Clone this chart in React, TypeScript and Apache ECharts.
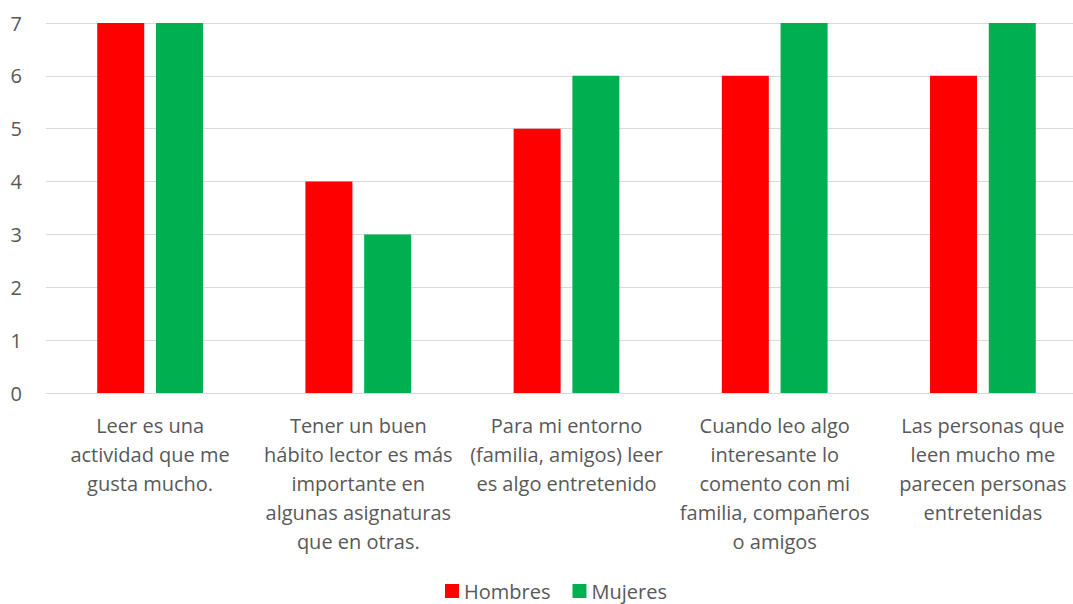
import React, { useEffect, useRef } from "react";
import * as echarts from "echarts";

const categories = [
  "Leer es una\nactividad que me\ngusta mucho.",
  "Tener un buen\nhábito lector es más\nimportante en\nalgunas asignaturas\nque en otras.",
  "Para mi entorno\n(familia, amigos) leer\nes algo entretenido",
  "Cuando leo algo\ninteresante lo\ncomento con mi\nfamilia, compañeros\no amigos",
  "Las personas que\nleen mucho me\nparecen personas\nentretenidas",
];
const hombres = [7, 4, 5, 6, 6];
const mujeres = [7, 3, 6, 7, 7];

const FONT = "'Open Sans', Lato, sans-serif";
const TEXT = "#595959";

export default function App() {
  const ref = useRef<HTMLDivElement>(null);
  useEffect(() => {
    if (!ref.current) return;
    const chart = echarts.init(ref.current, null, { renderer: "svg" });
    chart.setOption({
      animation: false,
      textStyle: { fontFamily: FONT },
      grid: { left: 46, top: 23, width: 1041, height: 370 },
      legend: {
        top: 576,
        left: 440,
        itemWidth: 14,
        itemHeight: 14,
        itemGap: 22,
        icon: "rect",
        textStyle: { color: TEXT, fontSize: 20, fontFamily: FONT },
        data: ["Hombres", "Mujeres"],
      },
      xAxis: {
        type: "category",
        data: categories,
        axisLine: { show: true, lineStyle: { color: "#d9d9d9", width: 1 } },
        axisTick: { show: false },
        axisLabel: {
          color: TEXT,
          fontSize: 20,
          lineHeight: 29,
          margin: 18,
          interval: 0,
          fontFamily: FONT,
        },
      },
      yAxis: {
        type: "value",
        min: 0,
        max: 7,
        interval: 1,
        axisLine: { show: false },
        axisTick: { show: false },
        axisLabel: { color: TEXT, fontSize: 20, margin: 24, fontFamily: FONT },
        splitLine: { lineStyle: { color: "#d9d9d9", width: 1 } },
      },
      series: [
        {
          name: "Hombres",
          type: "bar",
          data: hombres,
          barWidth: 47,
          barGap: "25%",
          itemStyle: { color: "#FF0000" },
        },
        {
          name: "Mujeres",
          type: "bar",
          data: mujeres,
          barWidth: 47,
          barGap: "25%",
          itemStyle: { color: "#00B050" },
        },
      ],
    });
    return () => chart.dispose();
  }, []);
  return (
    <div style={{ position: "fixed", left: 0, top: 0, width: 1073, height: 604, overflow: "hidden", background: "#fff" }}>
      <div ref={ref} style={{ width: 1100, height: 604 }} />
    </div>
  );
}
